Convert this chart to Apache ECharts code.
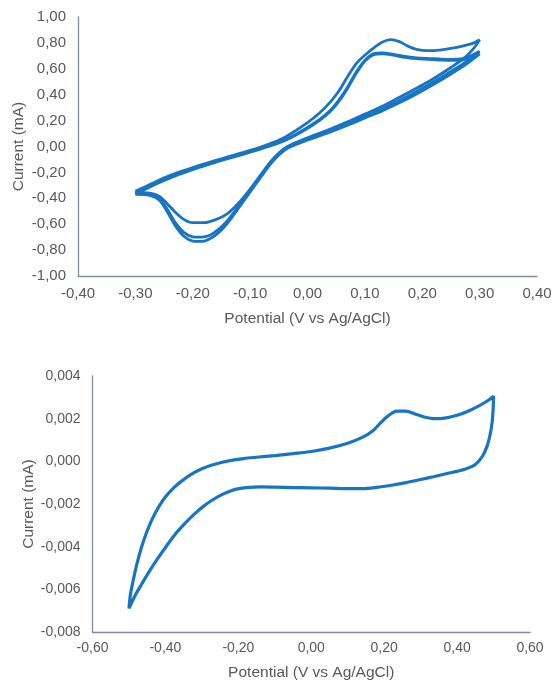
<!DOCTYPE html>
<html>
<head>
<meta charset="utf-8">
<script src="https://cdn.jsdelivr.net/npm/echarts@6/dist/echarts.min.js"></script>
<style>
    html, body { margin: 0; padding: 0; background: #fff; }
    #main { width: 554px; height: 681px; }
</style>
</head>
<body>
<div id="main"></div>
<script>
// top plot: three CV cycles [potential V, current mA]
var cycle1 = [
    [-0.300,-0.345],[-0.280,-0.305],[-0.260,-0.262],[-0.240,-0.225],[-0.220,-0.192],[-0.200,-0.162],
    [-0.175,-0.128],[-0.150,-0.095],[-0.125,-0.062],[-0.100,-0.030],[-0.080,-0.002],[-0.060,0.030],
    [-0.040,0.070],[-0.020,0.125],[0.000,0.185],[0.020,0.255],[0.040,0.345],[0.055,0.430],
    [0.070,0.540],[0.085,0.640],[0.100,0.705],[0.115,0.760],[0.130,0.805],[0.145,0.825],
    [0.160,0.810],[0.175,0.775],[0.190,0.750],[0.210,0.740],[0.230,0.745],[0.250,0.757],
    [0.270,0.775],[0.290,0.800],[0.300,0.825],
    [0.290,0.760],[0.275,0.690],[0.250,0.610],[0.220,0.525],[0.190,0.450],[0.160,0.380],
    [0.130,0.310],[0.100,0.250],[0.070,0.190],[0.040,0.135],[0.010,0.085],[-0.015,0.040],
    [-0.035,0.000],[-0.050,-0.050],[-0.065,-0.120],[-0.080,-0.210],[-0.095,-0.300],[-0.110,-0.385],
    [-0.125,-0.460],[-0.140,-0.520],[-0.160,-0.565],[-0.180,-0.588],[-0.200,-0.588],[-0.215,-0.565],
    [-0.230,-0.510],[-0.245,-0.440],[-0.258,-0.385],[-0.275,-0.360],[-0.300,-0.355]
];
var cycle2 = [
    [-0.300,-0.360],[-0.280,-0.318],[-0.260,-0.275],[-0.240,-0.237],[-0.220,-0.203],[-0.200,-0.172],
    [-0.175,-0.137],[-0.150,-0.104],[-0.125,-0.072],[-0.100,-0.040],[-0.080,-0.013],[-0.060,0.017],
    [-0.040,0.050],[-0.020,0.095],[0.000,0.148],[0.020,0.205],[0.040,0.280],[0.055,0.360],
    [0.070,0.460],[0.085,0.575],[0.100,0.665],[0.115,0.715],[0.130,0.722],[0.150,0.712],
    [0.170,0.695],[0.190,0.685],[0.210,0.680],[0.230,0.676],[0.250,0.673],[0.270,0.678],
    [0.285,0.700],[0.300,0.735],
    [0.290,0.700],[0.275,0.650],[0.250,0.580],[0.220,0.500],[0.190,0.425],[0.160,0.355],
    [0.130,0.290],[0.100,0.232],[0.070,0.175],[0.040,0.122],[0.010,0.072],[-0.015,0.030],
    [-0.035,-0.008],[-0.050,-0.060],[-0.065,-0.130],[-0.080,-0.220],[-0.095,-0.310],[-0.110,-0.400],
    [-0.125,-0.490],[-0.140,-0.575],[-0.155,-0.640],[-0.170,-0.685],[-0.185,-0.700],[-0.200,-0.697],
    [-0.215,-0.665],[-0.230,-0.590],[-0.245,-0.480],[-0.258,-0.405],[-0.275,-0.370],[-0.300,-0.360]
];
var cycle3 = [
    [-0.300,-0.370],[-0.280,-0.325],[-0.260,-0.282],[-0.240,-0.244],[-0.220,-0.210],[-0.200,-0.178],
    [-0.175,-0.142],[-0.150,-0.108],[-0.125,-0.076],[-0.100,-0.044],[-0.080,-0.017],[-0.060,0.012],
    [-0.040,0.045],[-0.020,0.088],[0.000,0.140],[0.020,0.198],[0.040,0.272],[0.055,0.350],
    [0.070,0.450],[0.085,0.565],[0.100,0.660],[0.115,0.708],[0.130,0.716],[0.150,0.705],
    [0.170,0.688],[0.190,0.678],[0.210,0.672],[0.230,0.668],[0.250,0.665],[0.270,0.668],
    [0.285,0.688],[0.300,0.715],
    [0.290,0.680],[0.275,0.630],[0.250,0.560],[0.220,0.480],[0.190,0.405],[0.160,0.337],
    [0.130,0.275],[0.100,0.220],[0.070,0.165],[0.040,0.113],[0.010,0.065],[-0.015,0.024],
    [-0.035,-0.014],[-0.050,-0.066],[-0.065,-0.138],[-0.080,-0.228],[-0.095,-0.320],[-0.110,-0.412],
    [-0.125,-0.505],[-0.140,-0.595],[-0.155,-0.665],[-0.170,-0.712],[-0.185,-0.733],[-0.200,-0.730],
    [-0.215,-0.695],[-0.230,-0.615],[-0.245,-0.500],[-0.258,-0.415],[-0.275,-0.378],[-0.300,-0.370]
];

// bottom plot: one CV loop
var cvBottom = [
    [-0.500,-0.00690],[-0.496,-0.00625],[-0.488,-0.00555],[-0.478,-0.00480],[-0.466,-0.00405],
    [-0.452,-0.00335],[-0.436,-0.00270],[-0.418,-0.00212],[-0.398,-0.00163],[-0.376,-0.00122],
    [-0.352,-0.00088],[-0.326,-0.00058],[-0.300,-0.00035],[-0.272,-0.00017],[-0.244,-0.00004],
    [-0.215,0.00006],[-0.185,0.00013],[-0.150,0.00019],[-0.100,0.00027],[-0.050,0.00036],
    [0.000,0.00046],[0.050,0.00062],[0.100,0.00085],[0.140,0.00112],[0.170,0.00145],
    [0.190,0.00180],[0.210,0.00212],[0.235,0.00235],[0.260,0.00235],[0.285,0.00222],
    [0.310,0.00208],[0.340,0.00200],[0.370,0.00204],[0.400,0.00216],[0.430,0.00235],
    [0.460,0.00260],[0.485,0.00285],[0.500,0.00305],
    [0.499,0.00250],[0.496,0.00180],[0.490,0.00120],[0.482,0.00070],[0.470,0.00025],
    [0.450,-0.00015],[0.425,-0.00035],[0.400,-0.00047],[0.370,-0.00058],[0.335,-0.00072],
    [0.300,-0.00085],[0.260,-0.00100],[0.220,-0.00112],[0.180,-0.00122],[0.140,-0.00128],
    [0.100,-0.00128],[0.050,-0.00126],[0.000,-0.00124],[-0.050,-0.00123],[-0.100,-0.00121],
    [-0.140,-0.00120],[-0.170,-0.00122],[-0.195,-0.00127],[-0.220,-0.00138],[-0.245,-0.00156],
    [-0.270,-0.00180],[-0.295,-0.00210],[-0.320,-0.00246],[-0.345,-0.00288],[-0.370,-0.00335],
    [-0.395,-0.00392],[-0.420,-0.00453],[-0.445,-0.00518],[-0.465,-0.00575],[-0.482,-0.00625],
    [-0.500,-0.00690]
];

var xTitle = 'Potential (V vs Ag/AgCl)';
var yTitle = 'Current (mA)';
var lineColor = '#1874c4';
var axisColor = '#7d8da3';
var textColor = '#595959';
var font = "'Liberation Sans', Arial, sans-serif";

function comma(digits) {
    return function (v) {
        if (Math.abs(v) < 1e-9) v = 0;
        return v.toFixed(digits).replace('.', ',');
    };
}

function axis(gridIndex, min, max, interval, digits, labelSize, labelMargin, name, nameGap) {
    return {
        type: 'value',
        gridIndex: gridIndex,
        min: min, max: max, interval: interval,
        name: name,
        nameLocation: 'middle',
        nameGap: nameGap,
        nameMoveOverlap: false,
        nameTextStyle: { color: textColor, fontSize: 15.5, fontFamily: font },
        axisLine: { show: true, onZero: false, lineStyle: { color: axisColor, width: 1.3 } },
        axisTick: { show: false },
        splitLine: { show: false },
        axisLabel: {
            color: textColor, fontSize: labelSize, fontFamily: font,
            margin: labelMargin, formatter: comma(digits)
        }
    };
}

function cv(data, xi, width) {
    return {
        type: 'line',
        xAxisIndex: xi, yAxisIndex: xi,
        data: data,
        smooth: 0.3,
        showSymbol: false,
        lineStyle: { color: lineColor, width: width },
        animation: false
    };
}

var chart = echarts.init(document.getElementById('main'));
chart.setOption({
    animation: false,
    grid: [
        { left: 78, top: 17, width: 459, height: 259, outerBoundsMode: 'none' },
        { left: 92.5, top: 376, width: 437.5, height: 256, outerBoundsMode: 'none' }
    ],
    xAxis: [
        axis(0, -0.4, 0.4, 0.1, 2, 15, 10, xTitle, 35),
        axis(1, -0.6, 0.6, 0.2, 2, 14, 9, xTitle, 33)
    ],
    yAxis: [
        axis(0, -1, 1, 0.2, 2, 15, 12, yTitle, 51),
        axis(1, -0.008, 0.004, 0.002, 3, 14, 12, yTitle, 56)
    ],
    series: [
        cv(cycle1, 0, 2.8),
        cv(cycle2, 0, 2.8),
        cv(cycle3, 0, 2.8),
        cv(cvBottom, 1, 3.2)
    ]
});
</script>
</body>
</html>
